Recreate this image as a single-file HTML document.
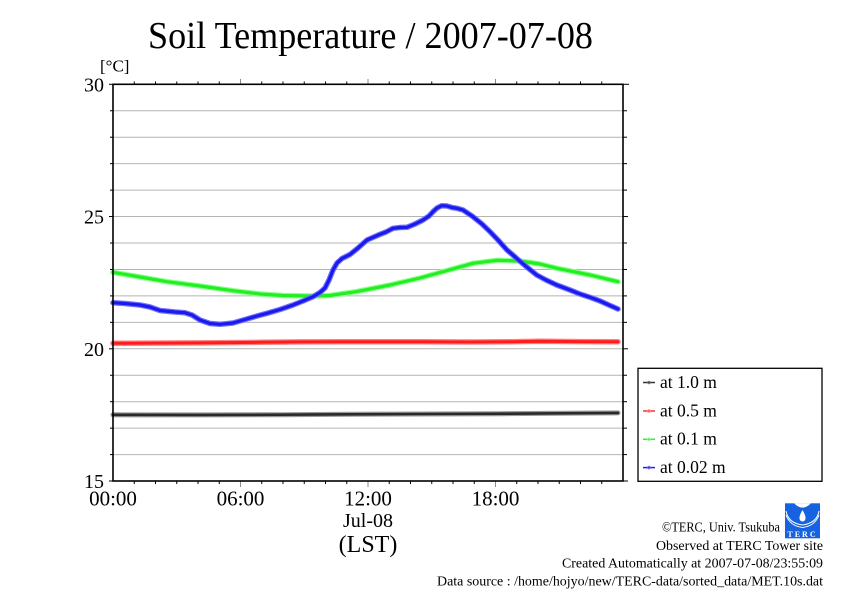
<!DOCTYPE html>
<html><head><meta charset="utf-8"><style>
html,body{margin:0;padding:0;background:#fff;}
svg{display:block;}
text{font-family:"Liberation Serif",serif;fill:#000;}
</style></head><body>
<svg width="842" height="595" viewBox="0 0 842 595" xmlns="http://www.w3.org/2000/svg">
<rect width="842" height="595" fill="#fff"/>
<!-- title -->
<text x="148" y="48" font-size="38" textLength="445" lengthAdjust="spacingAndGlyphs">Soil Temperature / 2007-07-08</text>
<text x="100" y="71.5" font-size="17">[°C]</text>

<!-- grid -->
<g stroke="#b4b4b4" stroke-width="1">
<line x1="113" y1="110.75" x2="623" y2="110.75"/>
<line x1="113" y1="137.2" x2="623" y2="137.2"/>
<line x1="113" y1="163.65" x2="623" y2="163.65"/>
<line x1="113" y1="190.1" x2="623" y2="190.1"/>
<line x1="113" y1="216.55" x2="623" y2="216.55"/>
<line x1="113" y1="243" x2="623" y2="243"/>
<line x1="113" y1="269.45" x2="623" y2="269.45"/>
<line x1="113" y1="295.9" x2="623" y2="295.9"/>
<line x1="113" y1="322.35" x2="623" y2="322.35"/>
<line x1="113" y1="348.8" x2="623" y2="348.8"/>
<line x1="113" y1="375.25" x2="623" y2="375.25"/>
<line x1="113" y1="401.7" x2="623" y2="401.7"/>
<line x1="113" y1="428.15" x2="623" y2="428.15"/>
<line x1="113" y1="454.6" x2="623" y2="454.6"/>
</g>

<!-- y ticks left & right -->
<g stroke="#000" stroke-width="1">
<line x1="109" y1="84.3" x2="113" y2="84.3"/>
<line x1="110" y1="110.75" x2="113" y2="110.75"/>
<line x1="110" y1="137.2" x2="113" y2="137.2"/>
<line x1="110" y1="163.65" x2="113" y2="163.65"/>
<line x1="110" y1="190.1" x2="113" y2="190.1"/>
<line x1="109" y1="216.55" x2="113" y2="216.55"/>
<line x1="110" y1="243" x2="113" y2="243"/>
<line x1="110" y1="269.45" x2="113" y2="269.45"/>
<line x1="110" y1="295.9" x2="113" y2="295.9"/>
<line x1="110" y1="322.35" x2="113" y2="322.35"/>
<line x1="109" y1="348.8" x2="113" y2="348.8"/>
<line x1="110" y1="375.25" x2="113" y2="375.25"/>
<line x1="110" y1="401.7" x2="113" y2="401.7"/>
<line x1="110" y1="428.15" x2="113" y2="428.15"/>
<line x1="110" y1="454.6" x2="113" y2="454.6"/>
<line x1="109" y1="481" x2="113" y2="481"/>
<line x1="623" y1="84.3" x2="629" y2="84.3"/>
<line x1="623" y1="110.75" x2="627" y2="110.75"/>
<line x1="623" y1="137.2" x2="627" y2="137.2"/>
<line x1="623" y1="163.65" x2="627" y2="163.65"/>
<line x1="623" y1="190.1" x2="627" y2="190.1"/>
<line x1="623" y1="216.55" x2="628" y2="216.55"/>
<line x1="623" y1="243" x2="627" y2="243"/>
<line x1="623" y1="269.45" x2="627" y2="269.45"/>
<line x1="623" y1="295.9" x2="627" y2="295.9"/>
<line x1="623" y1="322.35" x2="627" y2="322.35"/>
<line x1="623" y1="348.8" x2="628" y2="348.8"/>
<line x1="623" y1="375.25" x2="627" y2="375.25"/>
<line x1="623" y1="401.7" x2="627" y2="401.7"/>
<line x1="623" y1="428.15" x2="627" y2="428.15"/>
<line x1="623" y1="454.6" x2="627" y2="454.6"/>
<line x1="623" y1="481" x2="628" y2="481"/>
</g>
<!-- x ticks -->
<g stroke="#000" stroke-width="1">
<line x1="134.25" y1="84.3" x2="134.25" y2="81.5"/><line x1="155.5" y1="84.3" x2="155.5" y2="81.5"/><line x1="176.75" y1="84.3" x2="176.75" y2="81.5"/><line x1="198" y1="84.3" x2="198" y2="81.5"/><line x1="219.25" y1="84.3" x2="219.25" y2="81.5"/>
<line x1="261.75" y1="84.3" x2="261.75" y2="81.5"/><line x1="283" y1="84.3" x2="283" y2="81.5"/><line x1="304.25" y1="84.3" x2="304.25" y2="81.5"/><line x1="325.5" y1="84.3" x2="325.5" y2="81.5"/><line x1="346.75" y1="84.3" x2="346.75" y2="81.5"/>
<line x1="389.25" y1="84.3" x2="389.25" y2="81.5"/><line x1="410.5" y1="84.3" x2="410.5" y2="81.5"/><line x1="431.75" y1="84.3" x2="431.75" y2="81.5"/><line x1="453" y1="84.3" x2="453" y2="81.5"/><line x1="474.25" y1="84.3" x2="474.25" y2="81.5"/>
<line x1="516.75" y1="84.3" x2="516.75" y2="81.5"/><line x1="538" y1="84.3" x2="538" y2="81.5"/><line x1="559.25" y1="84.3" x2="559.25" y2="81.5"/><line x1="580.5" y1="84.3" x2="580.5" y2="81.5"/><line x1="601.75" y1="84.3" x2="601.75" y2="81.5"/>
<line x1="134.25" y1="481" x2="134.25" y2="484"/><line x1="155.5" y1="481" x2="155.5" y2="484"/><line x1="176.75" y1="481" x2="176.75" y2="484"/><line x1="198" y1="481" x2="198" y2="484"/><line x1="219.25" y1="481" x2="219.25" y2="484"/>
<line x1="261.75" y1="481" x2="261.75" y2="484"/><line x1="283" y1="481" x2="283" y2="484"/><line x1="304.25" y1="481" x2="304.25" y2="484"/><line x1="325.5" y1="481" x2="325.5" y2="484"/><line x1="346.75" y1="481" x2="346.75" y2="484"/>
<line x1="389.25" y1="481" x2="389.25" y2="484"/><line x1="410.5" y1="481" x2="410.5" y2="484"/><line x1="431.75" y1="481" x2="431.75" y2="484"/><line x1="453" y1="481" x2="453" y2="484"/><line x1="474.25" y1="481" x2="474.25" y2="484"/>
<line x1="516.75" y1="481" x2="516.75" y2="484"/><line x1="538" y1="481" x2="538" y2="484"/><line x1="559.25" y1="481" x2="559.25" y2="484"/><line x1="580.5" y1="481" x2="580.5" y2="484"/><line x1="601.75" y1="481" x2="601.75" y2="484"/>
</g>
<g stroke="#888" stroke-width="1">
<line x1="240.5" y1="84.3" x2="240.5" y2="79"/><line x1="368" y1="84.3" x2="368" y2="79"/><line x1="495.5" y1="84.3" x2="495.5" y2="79"/>
<line x1="240.5" y1="481" x2="240.5" y2="487"/><line x1="368" y1="481" x2="368" y2="487"/><line x1="495.5" y1="481" x2="495.5" y2="487"/>
</g>

<!-- series -->
<g fill="none" stroke-linejoin="round" stroke-linecap="round">
<polyline stroke="#999" stroke-width="5" points="113,414.8 200,414.9 280,414.7 350,414.3 420,414 500,413.7 560,413.3 618,412.9"/>
<polyline stroke="#2a2a2a" stroke-width="2.6" points="113,414.8 200,414.9 280,414.7 350,414.3 420,414 500,413.7 560,413.3 618,412.9"/>
<polyline stroke="#ff8080" stroke-width="5.5" points="113,343.3 200,342.9 260,342.3 300,341.9 340,341.8 420,341.8 470,342 510,341.8 540,341.3 580,341.6 618,341.7"/>
<polyline stroke="#ff1c1c" stroke-width="3" points="113,343.3 200,342.9 260,342.3 300,341.9 340,341.8 420,341.8 470,342 510,341.8 540,341.3 580,341.6 618,341.7"/>
<polyline stroke="#90ff90" stroke-width="5.5" points="113,272.3 140,277 167,281.7 200,286 233,290.7 260,294 283,295.5 313,296 330,295.5 356,291.7 390,285 420,278 440,272.5 473,263.3 497,260.3 520,261 540,264 557,268.3 590,275 618,281.7"/>
<polyline stroke="#22ee22" stroke-width="3.2" points="113,272.3 140,277 167,281.7 200,286 233,290.7 260,294 283,295.5 313,296 330,295.5 356,291.7 390,285 420,278 440,272.5 473,263.3 497,260.3 520,261 540,264 557,268.3 590,275 618,281.7"/>
<polyline stroke="#7070ff" stroke-width="5.5" points="113,302.7 125,303.5 140,305 150,307 160,310.5 175,312 185,312.7 192,315 200,320 210,323.5 220,324.3 233,323 245,319.5 257,316 267,313.3 280,309.5 293,305 303,301 313,296.7 320,292.5 325,288 329,280 333,270 337,263 342,258.5 350,254.5 358,248 367,240 375,236.5 380,234.3 386,232 393,228.3 400,227.5 407,227.3 415,224 423,220 429,216 433,211.7 437,208 441.7,205.7 447,206 452,207.5 457,208.3 463,210 473,216.7 482,224 490,231.7 498,240 507,250 514,256 520,261.3 528,268 536.7,275 546,280 556.7,285 570,290 580,294 590,297.3 600,301 610,305.5 618,309"/>
<polyline stroke="#1a1aee" stroke-width="3.2" points="113,302.7 125,303.5 140,305 150,307 160,310.5 175,312 185,312.7 192,315 200,320 210,323.5 220,324.3 233,323 245,319.5 257,316 267,313.3 280,309.5 293,305 303,301 313,296.7 320,292.5 325,288 329,280 333,270 337,263 342,258.5 350,254.5 358,248 367,240 375,236.5 380,234.3 386,232 393,228.3 400,227.5 407,227.3 415,224 423,220 429,216 433,211.7 437,208 441.7,205.7 447,206 452,207.5 457,208.3 463,210 473,216.7 482,224 490,231.7 498,240 507,250 514,256 520,261.3 528,268 536.7,275 546,280 556.7,285 570,290 580,294 590,297.3 600,301 610,305.5 618,309"/>
</g>

<!-- frame -->
<rect x="113" y="84.3" width="510" height="396.7" fill="none" stroke="#000" stroke-width="1.6"/>

<!-- y labels -->
<g font-size="20" text-anchor="end">
<text x="104" y="91.5">30</text>
<text x="104" y="223.5">25</text>
<text x="104" y="355.8">20</text>
<text x="104" y="488">15</text>
</g>
<!-- x labels -->
<g font-size="21" text-anchor="middle">
<text x="113" y="505.5">00:00</text>
<text x="240.5" y="505.5">06:00</text>
<text x="368" y="505.5">12:00</text>
<text x="495.5" y="505.5">18:00</text>
<text x="368" y="527" font-size="20">Jul-08</text>
<text x="368" y="552" font-size="24">(LST)</text>
</g>

<!-- legend -->
<rect x="638" y="368.3" width="184" height="113" fill="#fff" stroke="#000" stroke-width="1.3"/>
<g stroke-width="1.5">
<line x1="643" y1="382.5" x2="655" y2="382.5" stroke="#333"/>
<line x1="643" y1="411" x2="655" y2="411" stroke="#ff3030"/>
<line x1="643" y1="439.3" x2="655" y2="439.3" stroke="#30ee30"/>
<line x1="643" y1="467.6" x2="655" y2="467.6" stroke="#2020ee"/>
</g>
<g fill="none" stroke-width="1">
<circle cx="649" cy="382.5" r="1.3" stroke="#777"/>
<circle cx="649" cy="411" r="1.3" stroke="#ff8080"/>
<circle cx="649" cy="439.3" r="1.3" stroke="#90ff90"/>
<circle cx="649" cy="467.6" r="1.3" stroke="#7070ff"/>
</g>
<g font-size="17.5">
<text x="660" y="388">at 1.0 m</text>
<text x="660" y="416.3">at 0.5 m</text>
<text x="660" y="444.6">at 0.1 m</text>
<text x="660" y="473">at 0.02 m</text>
</g>

<!-- footer -->
<g font-size="13.5">
<text x="662" y="531.5" textLength="118" lengthAdjust="spacingAndGlyphs">©TERC, Univ. Tsukuba</text>
<text x="656" y="550" textLength="167" lengthAdjust="spacingAndGlyphs">Observed at TERC Tower site</text>
<text x="562" y="567.5" textLength="261" lengthAdjust="spacingAndGlyphs">Created Automatically at 2007-07-08/23:55:09</text>
<text x="437" y="585.5" textLength="386" lengthAdjust="spacingAndGlyphs">Data source : /home/hojyo/new/TERC-data/sorted_data/MET.10s.dat</text>
</g>

<!-- logo -->
<g>
<rect x="785" y="503.3" width="35" height="35" fill="#1662e0"/>
<path d="M794,503.3 Q802.5,512 811,503.3 Z" fill="#fff"/>
<path d="M802.5,510 Q799,516 799.5,518.5 A3,3 0 0 0 805.5,518.5 Q806,516 802.5,510 Z" fill="#fff"/>
<g fill="none" stroke="#fff" stroke-width="1">
<path d="M786,511 Q788,523 802.5,525"/>
<path d="M819,511 Q817,523 802.5,525"/>
<path d="M786,515 Q790,526 802.5,527.5"/>
<path d="M819,515 Q815,526 802.5,527.5"/>
</g>
<text x="802.5" y="537" font-size="8" text-anchor="middle" font-family="Liberation Sans, sans-serif" font-weight="bold" style="fill:#fff" letter-spacing="2">TERC</text>
</g>
</svg>
</body></html>
